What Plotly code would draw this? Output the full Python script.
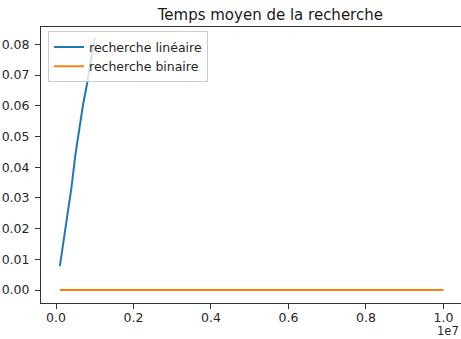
import plotly.graph_objects as go

# Array sizes tested and average search time (seconds)
sizes_lin = [100000, 200000, 300000, 400000, 500000, 600000, 700000, 800000, 900000, 1000000]
time_lin = [0.0078, 0.0165, 0.0250, 0.0335, 0.0440, 0.0525, 0.0605, 0.0670, 0.0750, 0.0822]

sizes_bin = [100000, 1000000, 2000000, 3000000, 4000000, 5000000,
             6000000, 7000000, 8000000, 9000000, 10000000]
time_bin = [0.000004, 0.000005, 0.000005, 0.000006, 0.000006, 0.000006,
            0.000006, 0.000007, 0.000007, 0.000007, 0.000007]

x_tickvals = [0, 2000000, 4000000, 6000000, 8000000, 10000000]
x_ticktext = ["0.0", "0.2", "0.4", "0.6", "0.8", "1.0"]
y_tickvals = [0.00, 0.01, 0.02, 0.03, 0.04, 0.05, 0.06, 0.07, 0.08]

FONT = "DejaVu Sans"
TXT = "#262626"
W, H = 461, 339
L, T, B = 41, 27, 36

fig = go.Figure()
fig.add_trace(go.Scatter(x=sizes_lin, y=time_lin, mode="lines",
                         name="recherche linéaire",
                         line=dict(color="#1f77b4", width=2)))
fig.add_trace(go.Scatter(x=sizes_bin, y=time_bin, mode="lines",
                         name="recherche binaire",
                         line=dict(color="#ff7f0e", width=2)))

axis_common = dict(showgrid=False, zeroline=False, showline=True,
                   linecolor="#333333", linewidth=1,
                   ticks="outside", ticklen=5, tickwidth=1, tickcolor="#333333",
                   tickfont=dict(family=FONT, size=12.5, color=TXT))

fig.update_xaxes(range=[-387000, 10452000], tickvals=x_tickvals, ticktext=x_ticktext,
                 mirror=True, ticklabelstandoff=-2, **axis_common)
fig.update_yaxes(range=[-0.00423, 0.08563], tickvals=y_tickvals, tickformat=".2f",
                 ticklabelstandoff=3, **axis_common)

# scale factor shown under the right end of the x axis
fig.add_annotation(text="1e7", xref="paper", yref="paper", x=0.998, y=-0.1322,
                   xanchor="right", yanchor="bottom", showarrow=False, borderpad=0,
                   font=dict(family=FONT, size=11.5, color=TXT))

fig.update_layout(
    width=W, height=H,
    margin=dict(l=L, r=0, t=T, b=B, pad=0),
    paper_bgcolor="white", plot_bgcolor="white",
    title=dict(text="Temps moyen de la recherche", x=0.546, xanchor="center",
               xref="paper", y=1 - 15 / H, yref="container", yanchor="middle",
               font=dict(family=FONT, size=15, color="#1a1a1a")),
    legend=dict(x=0.0167, y=0.984, xanchor="left", yanchor="top",
                bgcolor="rgba(255,255,255,0.8)", bordercolor="#cccccc", borderwidth=1,
                font=dict(family=FONT, size=12.5, color=TXT),
                itemwidth=30, tracegroupgap=0),
    showlegend=True,
)

fig.write_html("out.html")
